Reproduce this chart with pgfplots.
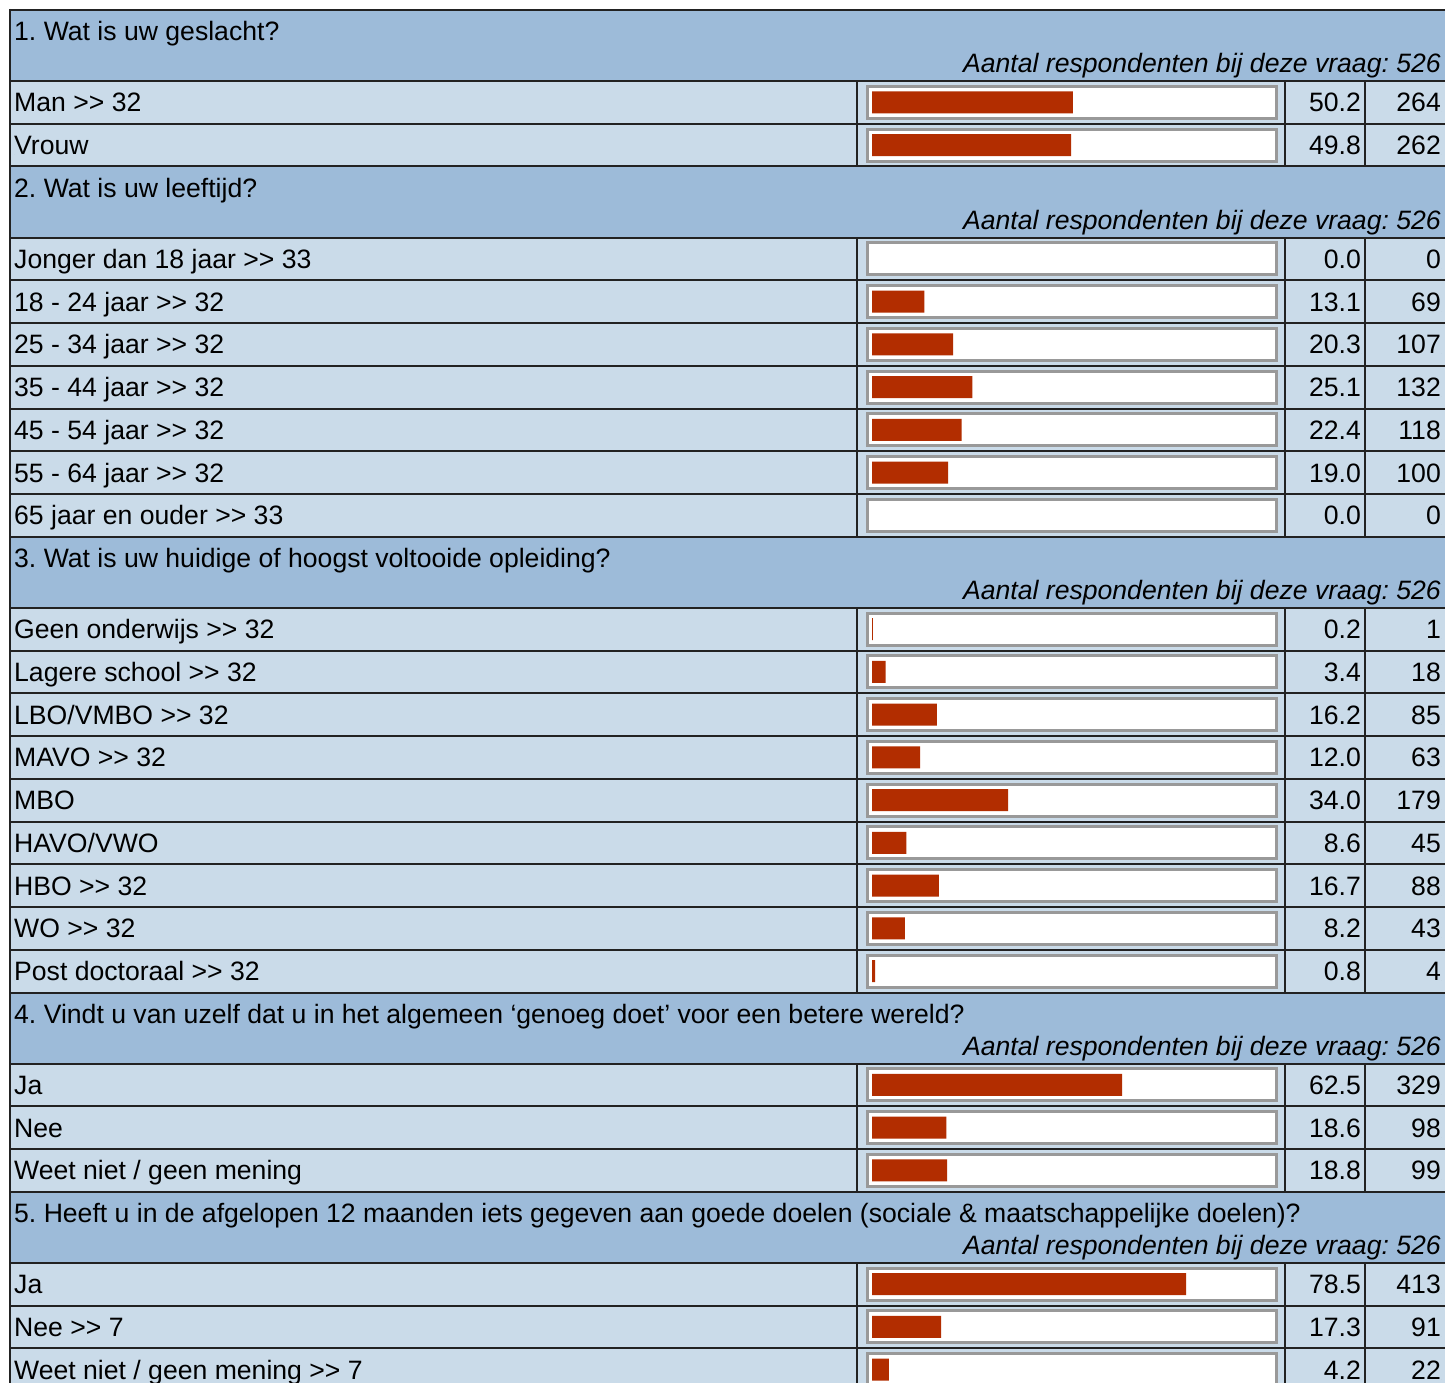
\documentclass[border=0pt]{standalone}
\usepackage{fontspec}
\setmainfont{Liberation Sans}[Ligatures=TeXOff]
\usepackage{pgfplots}
\usepackage{pgfplotstable}
\pgfplotsset{compat=1.18}
\frenchspacing
\definecolor{hdr}{HTML}{9DBBD9}
\definecolor{rowbg}{HTML}{CADBE9}
\definecolor{barred}{HTML}{B22D00}
\definecolor{frm}{HTML}{999999}
\definecolor{grd}{HTML}{222222}
\newcommand{\fs}{\fontsize{26.6}{30}\selectfont}

\pgfplotstableread[col sep=semicolon]{
y;label;pct;n
102.4;Man >> 32;50.2;264
145.1;Vrouw;49.8;262
258.9;Jonger dan 18 jaar >> 33;0.0;0
301.6;18 - 24 jaar >> 32;13.1;69
344.4;25 - 34 jaar >> 32;20.3;107
387.1;35 - 44 jaar >> 32;25.1;132
429.9;45 - 54 jaar >> 32;22.4;118
472.6;55 - 64 jaar >> 32;19.0;100
515.4;65 jaar en ouder >> 33;0.0;0
629.1;Geen onderwijs >> 32;0.2;1
671.9;Lagere school >> 32;3.4;18
714.6;LBO/VMBO >> 32;16.2;85
757.4;MAVO >> 32;12.0;63
800.1;MBO;34.0;179
842.9;HAVO/VWO;8.6;45
885.6;HBO >> 32;16.7;88
928.4;WO >> 32;8.2;43
971.1;Post doctoraal >> 32;0.8;4
1084.9;Ja;62.5;329
1127.6;Nee;18.6;98
1170.4;Weet niet / geen mening;18.8;99
1284.1;Ja;78.5;413
1326.9;Nee >> 7;17.3;91
1369.6;Weet niet / geen mening >> 7;4.2;22
}\data

\pgfplotsset{
  txt/.style={only marks, mark=*, mark size=0pt, mark options={draw=none, fill=none},
    nodes near coords, point meta=explicit symbolic,
    every node near coord/.style={inner sep=0pt, font=\fs, text=black, #1}},
}

\begin{document}
\begin{tikzpicture}
\begin{axis}[name=main, at={(0pt,0pt)}, anchor=south west, scale only axis,
  width=1445pt, height=1383pt, xmin=0, xmax=1445, ymin=0, ymax=1383,
  y dir=reverse, hide axis, clip=true]
% backgrounds
\fill[rowbg] (axis cs:10,10) rectangle (axis cs:1445,1395);
\pgfplotsinvokeforeach{10,166.5,536.75,992.5,1191.75}{
  \fill[hdr] (axis cs:10,#1) rectangle (axis cs:1445,{#1+71});
}
% frames of the bars
\pgfplotsinvokeforeach{102.4,145.1,258.9,301.6,344.4,387.1,429.9,472.6,515.4,629.1,671.9,714.6,757.4,800.1,842.9,885.6,928.4,971.1,1084.9,1127.6,1170.4,1284.1,1326.9,1369.6}{
  \draw[frm, line width=3pt, fill=white] (axis cs:867.5,{#1-16}) rectangle (axis cs:1276.5,{#1+16});
}
% horizontal grid lines
\pgfplotsinvokeforeach{10,81,123.75,166.5,237.5,280.25,323,365.75,408.5,451.25,494,536.75,607.75,650.5,693.25,736,778.75,821.5,864.25,907,949.75,992.5,1063.5,1106.25,1149,1191.75,1262.75,1305.5,1348.25}{
  \draw[grd, line width=2pt] (axis cs:10,#1) -- (axis cs:1445,#1);
}
% vertical grid lines
\pgfplotsinvokeforeach{857,1285,1365}{
  \draw[grd, line width=2pt] (axis cs:#1,81) -- (axis cs:#1,166.5);
  \draw[grd, line width=2pt] (axis cs:#1,237.5) -- (axis cs:#1,536.75);
  \draw[grd, line width=2pt] (axis cs:#1,607.75) -- (axis cs:#1,992.5);
  \draw[grd, line width=2pt] (axis cs:#1,1063.5) -- (axis cs:#1,1191.75);
  \draw[grd, line width=2pt] (axis cs:#1,1262.75) -- (axis cs:#1,1395);
}
\draw[grd, line width=2pt] (axis cs:10,9) -- (axis cs:10,1395);
% headers
\node[anchor=base west, inner sep=0pt, font=\fs] at (axis cs:14,41) {1. Wat is uw geslacht?};
\node[anchor=base west, inner sep=0pt, font=\fs] at (axis cs:14,197.5) {2. Wat is uw leeftijd?};
\node[anchor=base west, inner sep=0pt, font=\fs] at (axis cs:14,567.75) {3. Wat is uw huidige of hoogst voltooide opleiding?};
\node[anchor=base west, inner sep=0pt, font=\fs] at (axis cs:14,1023.5) {4. Vindt u van uzelf dat u in het algemeen ‘genoeg doet’ voor een betere wereld?};
\node[anchor=base west, inner sep=0pt, font=\fs] at (axis cs:14,1222.75) {5. Heeft u in de afgelopen 12 maanden iets gegeven aan goede doelen (sociale \& maatschappelijke doelen)?};
\pgfplotsinvokeforeach{73,229.5,599.75,1055.5,1254.75}{
  \node[anchor=base east, inner sep=0pt, font=\fs\itshape] at (axis cs:1441,#1) {Aantal respondenten bij deze vraag: 526};
}
% row texts
\addplot[txt={anchor=base west}] table[x expr=14, y expr=\thisrow{y}+9.5, meta=label]{\data};
\addplot[txt={anchor=base east}] table[x expr=1361, y expr=\thisrow{y}+9.5, meta=pct]{\data};
\addplot[txt={anchor=base east}] table[x expr=1441, y expr=\thisrow{y}+9.5, meta=n]{\data};
\end{axis}
\begin{axis}[at={(872pt,0pt)}, anchor=south west, scale only axis,
  width=400pt, height=1383pt, xmin=0, xmax=100, ymin=0, ymax=1383,
  y dir=reverse, hide axis, clip=true]
\addplot[xbar, bar width=22, fill=barred, draw=none, restrict x to domain=0.01:100] table[x=pct, y=y]{\data};
\end{axis}
\pgfresetboundingbox
\path (0pt,0pt) rectangle (1445pt,1383pt);
\end{tikzpicture}
\end{document}
